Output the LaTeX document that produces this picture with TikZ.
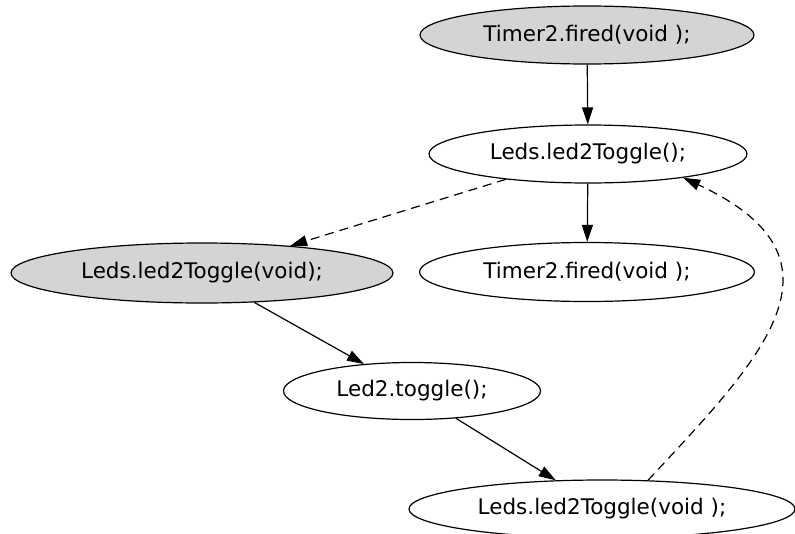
\documentclass[tikz,border=0pt]{standalone}
\usepackage{fontspec}
\setmainfont{DejaVu Sans}
\usetikzlibrary{shapes.geometric,arrows.meta}
\begin{document}
\begin{tikzpicture}[x=1pt,y=-1pt,
  fn/.style={ellipse,draw=black,line width=1.2pt,inner sep=0pt,
    font=\fontsize{21.5}{26}\selectfont},
  entry/.style={fn,fill=black!17},
  call/.style={line width=1.2pt,-{Triangle[length=17pt,width=11pt]}},
  wire/.style={call,dash pattern=on 9pt off 6pt}]
\useasboundingbox (0,0) rectangle (795,533);

\node[entry,minimum width=334pt,minimum height=58pt] (top) at (587,35) {Timer2.fired(void );};
\node[fn,minimum width=318pt,minimum height=58pt] (ledsA) at (588,154) {Leds.led2Toggle();};
\node[entry,minimum width=382pt,minimum height=60pt] (impl) at (202,273) {Leds.led2Toggle(void);};
\node[fn,minimum width=335pt,minimum height=59pt] (timer) at (587,272) {Timer2.fired(void );};
\node[fn,minimum width=257pt,minimum height=57pt] (led) at (412,391) {Led2.toggle();};
\node[fn,minimum width=386pt,minimum height=58pt] (ledsB) at (602,509) {Leds.led2Toggle(void );};

\draw[call] (top) -- (ledsA);
\draw[call] (ledsA) -- (timer);
\draw[wire] (ledsA) -- (impl);
\draw[call] (impl) -- (led);
\draw[call] (led) -- (ledsB);
\draw[wire] (ledsB.32) .. controls (760,360) and (860,260) .. (ledsA.-14);
\end{tikzpicture}
\end{document}
